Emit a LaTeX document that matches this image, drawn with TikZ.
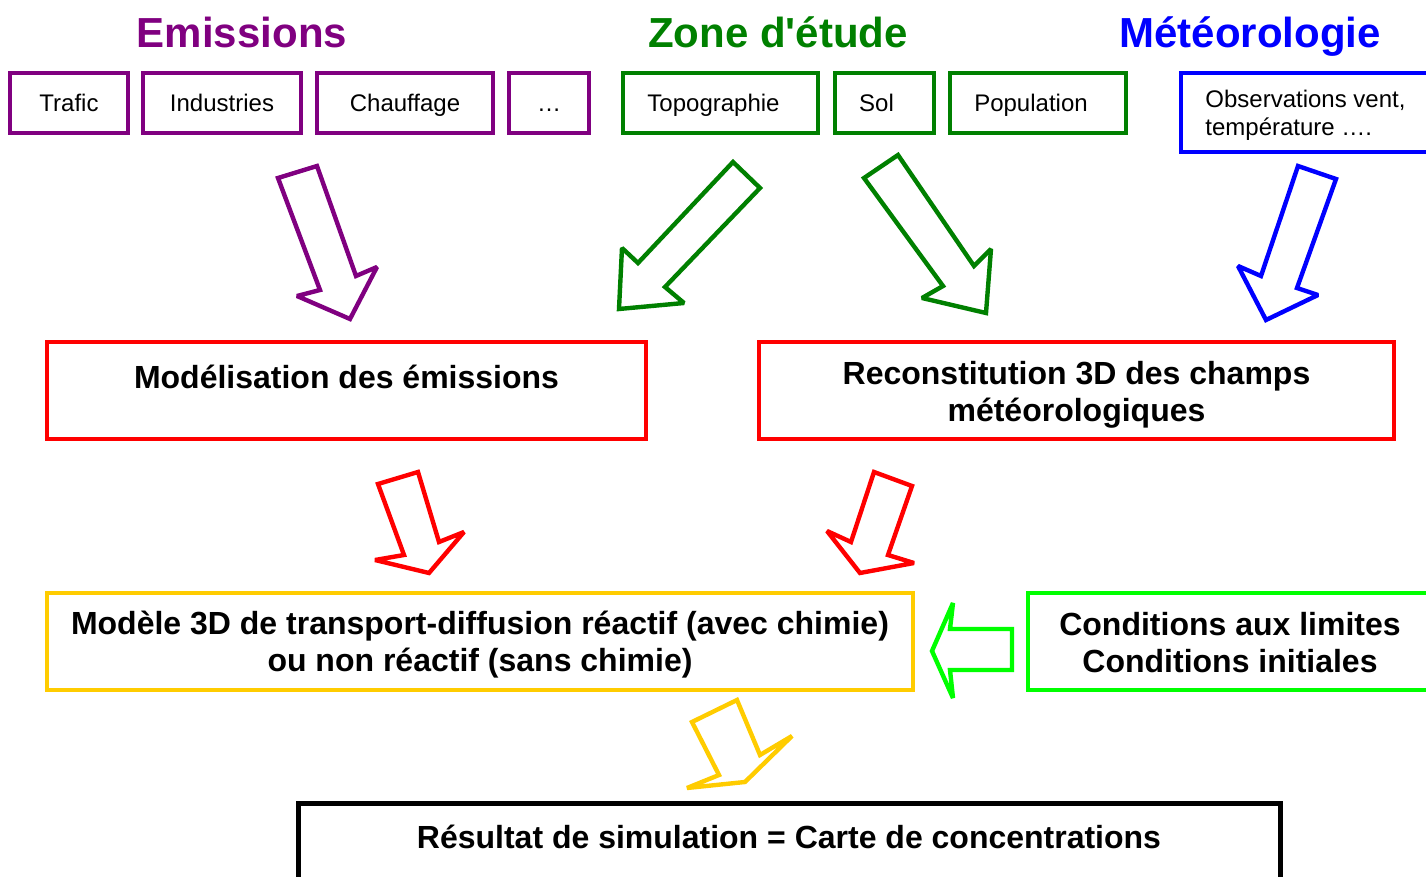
\documentclass[tikz,border=0pt]{standalone}
\usepackage{fontspec}
\setmainfont{Liberation Sans}[Ligatures=TeXOff]
\definecolor{emi}{HTML}{800080}
\definecolor{zone}{HTML}{008000}
\definecolor{meteo}{HTML}{0000FF}
\definecolor{rouge}{HTML}{FF0000}
\definecolor{jaune}{HTML}{FFCC00}
\definecolor{vif}{HTML}{00FF00}
\begin{document}
\begin{tikzpicture}[x=0.5pt,y=-0.5pt,
 smallbox/.style={draw=#1, line width=2pt, inner sep=0pt, outer sep=0pt, minimum height=30pt, text height=8.6pt, text depth=0pt, font=\fontsize{12}{14}\selectfont},
 bigbox/.style={draw=#1, line width=2pt, inner sep=0pt, outer sep=0pt, minimum height=48.5pt},
 boldtext/.style={inner sep=0pt, align=center, font=\fontsize{16}{18.5}\selectfont\bfseries},
 titletext/.style={text=#1, anchor=base, inner sep=0pt, font=\fontsize{21}{25}\selectfont\bfseries},
 blockarrow/.style={draw=#1, line width=2.2pt, line join=miter, miter limit=2, fill=white}]
\useasboundingbox (0,0) rectangle (1426,877);
\clip (0,0) rectangle (1426,877);

% titles
\node[titletext=emi] (temi) at (242,48) {Emissions};
\node[titletext=zone] (tzone) at (778,48) {Zone d'étude};
\node[titletext=meteo] (tmeteo) at (1250,48) {Météorologie};

% top row
\node[smallbox=emi, minimum width=59pt] (trafic) at (69,103) {Trafic};
\node[smallbox=emi, minimum width=79pt] (indus) at (222,103) {Industries};
\node[smallbox=emi, minimum width=88pt] (chauf) at (405,103) {Chauffage};
\node[smallbox=emi, minimum width=40pt] (autres) at (549,103) {…};
\node[smallbox=zone, minimum width=97.5pt] (topo) at (720.5,103) {Topographie\hspace*{7pt}};
\node[smallbox=zone, minimum width=49.5pt] (sol) at (884.5,103) {Sol\hspace*{8pt}};
\node[smallbox=zone, minimum width=88pt] (popu) at (1038,103) {Population\hspace*{7pt}};
\node[draw=meteo, line width=2pt, inner sep=0pt, outer sep=0pt, minimum width=129.5pt, minimum height=39.5pt] (obs) at (1310.5,112.5) {};
\node[anchor=west, inner sep=0pt, align=left, font=\fontsize{12}{14}\selectfont] (obstxt) at (1205,115.5)
      {Observations vent,\\température ….};

% arrows row 1
\draw[blockarrow=emi] (278,178) -- (317,166) -- (356,276) -- (377,267) -- (350,319) -- (297,296) -- (320,290) -- cycle;
\draw[blockarrow=zone] (733,162) -- (760,188) -- (665,287) -- (684,303) -- (619,309) -- (622,248) -- (638,263) -- cycle;
\draw[blockarrow=zone] (898,155) -- (864,178) -- (943,286) -- (922,298) -- (986,313) -- (991,249) -- (974,266) -- cycle;
\draw[blockarrow=meteo] (1298,166) -- (1336,179) -- (1297,288) -- (1318,295) -- (1266,320) -- (1238,266) -- (1261,276) -- cycle;

% middle boxes
\node[bigbox=rouge, minimum width=299.5pt] (modem) at (346.5,390.5) {};
\node[boldtext, anchor=base] (modemtxt) at (346.5,389) {Modélisation des émissions};
\node[bigbox=rouge, minimum width=317.5pt] (recon) at (1076.5,390.5) {};
\node[boldtext] (recontxt) at (1076.5,394.5) {Reconstitution 3D des champs\\météorologiques};

% arrows row 2
\draw[blockarrow=rouge] (378,484) -- (418,472) -- (439,542) -- (464,532) -- (429,573) -- (375,560) -- (404,555) -- cycle;
\draw[blockarrow=rouge] (874,472) -- (912,486) -- (888,555) -- (914,563) -- (860,573) -- (827,531) -- (851,542) -- cycle;

% model row
\node[bigbox=jaune, minimum width=433pt] (modele) at (480,641) {};
\node[boldtext] (modeletxt) at (480,645) {Modèle 3D de transport-diffusion réactif (avec chimie)\\ou non réactif (sans chimie)};
\node[bigbox=vif, minimum width=202pt] (cond) at (1230,641) {};
\node[boldtext] (condtxt) at (1230,643) {Conditions aux limites\\Conditions initiales};
\draw[blockarrow=vif] (1012,629) -- (1012,670) -- (950,670) -- (953,698) -- (932,651) -- (953,603) -- (950,629) -- cycle;

% result
\draw[blockarrow=jaune] (692,722) -- (737,700) -- (760,755) -- (792,736) -- (745,782) -- (687,788) -- (719,775) -- cycle;
\node[draw=black, line width=2.5pt, inner sep=0pt, outer sep=0pt, minimum width=491pt, minimum height=48.5pt] (result) at (789,851.5) {};
\node[boldtext, anchor=base] (resulttxt) at (789,848.5) {Résultat de simulation = Carte de concentrations};
\end{tikzpicture}
\end{document}
